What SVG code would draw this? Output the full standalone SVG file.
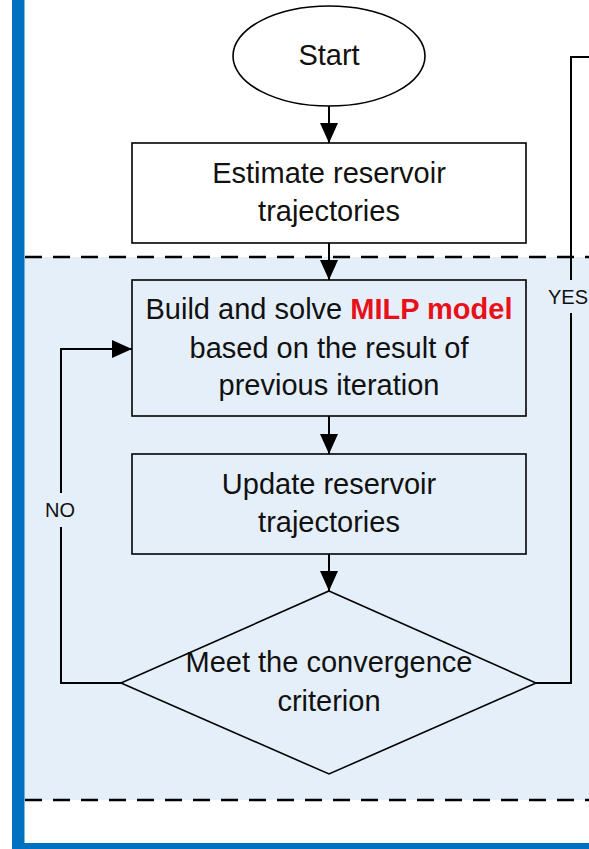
<svg xmlns="http://www.w3.org/2000/svg" width="589" height="849" viewBox="0 0 589 849">
<defs>
<marker id="ah" viewBox="0 0 20 18" refX="20" refY="9" markerWidth="20" markerHeight="18" markerUnits="userSpaceOnUse" orient="auto">
<path d="M0,0 L20,9 L0,18 Z" fill="#000"/>
</marker>
<style>
.t{font-family:"Liberation Sans",Arial,sans-serif;font-size:29px;fill:#111;text-anchor:middle}
.lbl{font-family:"Liberation Sans",Arial,sans-serif;font-size:20px;fill:#111;text-anchor:middle}
.shape{stroke:#000;stroke-width:1.6}
.conn{fill:none;stroke:#000;stroke-width:2}
.dash{stroke:#000;stroke-width:2.5;stroke-dasharray:17 11}
.red{fill:#E8101A;font-weight:bold}
</style>
</defs>
<rect x="0" y="0" width="589" height="849" fill="#fff"/>
<rect x="24" y="257" width="565" height="543" fill="#E5EFF9"/>
<line class="dash" x1="25" y1="257" x2="589" y2="257"/>
<line class="dash" x1="25" y1="800" x2="589" y2="800"/>
<rect x="12" y="0" width="12.5" height="849" fill="#0070C0"/>
<rect x="12" y="843" width="577" height="6" fill="#0070C0"/>

<g id="connectors">
<line class="conn" x1="329" y1="106" x2="329" y2="143" marker-end="url(#ah)"/>
<line class="conn" x1="329" y1="243" x2="329" y2="280" marker-end="url(#ah)"/>
<line class="conn" x1="329" y1="416" x2="329" y2="454" marker-end="url(#ah)"/>
<line class="conn" x1="329" y1="554" x2="329" y2="591" marker-end="url(#ah)"/>
<polyline class="conn" points="121,683 61,683 61,527"/>
<polyline class="conn" points="61,493 61,349 132,349" marker-end="url(#ah)"/>
<polyline class="conn" points="536,683 571,683 571,313"/>
<polyline class="conn" points="571,280 571,57 589,57"/>
<text class="lbl" x="60" y="517">NO</text>
<text class="lbl" x="588" y="304" style="text-anchor:end">YES</text>
</g>

<g id="start">
<ellipse class="shape" cx="329" cy="56" rx="96" ry="50" fill="#fff"/>
<text class="t" x="329" y="65">Start</text>
</g>

<g id="estimate">
<rect class="shape" x="132" y="143" width="394" height="100" fill="#fff"/>
<text class="t" x="329" y="183">Estimate reservoir</text>
<text class="t" x="329" y="221">trajectories</text>
</g>

<g id="milp">
<rect class="shape" x="132" y="280" width="394" height="136" fill="none"/>
<text class="t" x="329" y="319">Build and solve <tspan class="red">MILP model</tspan></text>
<text class="t" x="329" y="358">based on the result of</text>
<text class="t" x="329" y="395">previous iteration</text>
</g>

<g id="update">
<rect class="shape" x="132" y="454" width="394" height="100" fill="none"/>
<text class="t" x="329" y="494">Update reservoir</text>
<text class="t" x="329" y="532">trajectories</text>
</g>

<g id="decision">
<polygon class="shape" points="329,591 536,683 329,774 121,683" fill="none"/>
<text class="t" x="329" y="672">Meet the convergence</text>
<text class="t" x="329" y="711">criterion</text>
</g>
</svg>
